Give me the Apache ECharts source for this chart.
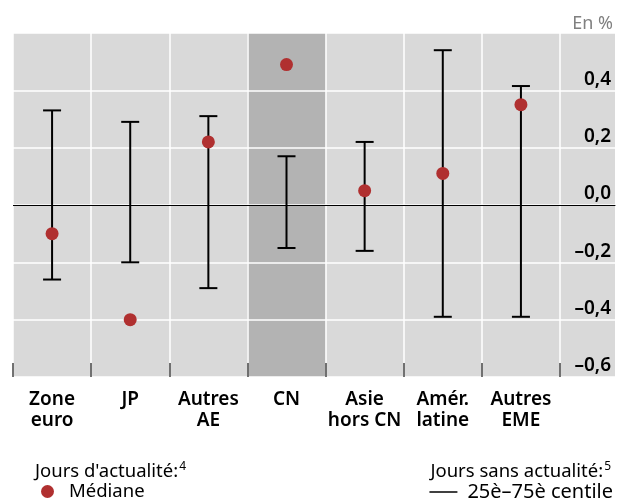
<!DOCTYPE html>
<html>
<head>
<meta charset="utf-8">
<script src="https://cdn.jsdelivr.net/npm/echarts@6/dist/echarts.min.js"></script>
<style>
  html, body { margin: 0; padding: 0; background: #fff; }
  #chart { width: 624px; height: 499px; }
</style>
</head>
<body>
<div id="chart"></div>
<script>
// Regions on the horizontal axis
var categories = ['Zone\neuro', 'JP', 'Autres\nAE', 'CN', 'Asie\nhors CN', 'Amér.\nlatine', 'Autres\nEME'];
// News days: median return (%)
var medians = [-0.10, -0.40, 0.22, 0.49, 0.05, 0.11, 0.35];
// No-news days: 25th and 75th percentiles (%)
var p25 = [-0.26, -0.20, -0.29, -0.15, -0.16, -0.39, -0.39];
var p75 = [0.33, 0.29, 0.31, 0.17, 0.22, 0.54, 0.415];
// Highlighted category
var highlighted = 'CN';
// Value axis range and step
var yMin = -0.6, yMax = 0.6, yStep = 0.2;

var FONT = '"Noto Sans", sans-serif';
var RED = '#b03030';
var BG = '#d9d9d9';

function fmt(v) {
  var s = Math.abs(v).toFixed(1).replace('.', ',');
  return (v < -1e-9 ? '\u2013' : '') + s;
}

var rangeData = categories.map(function (c, i) { return [i, p25[i], p75[i]]; });
var medianData = categories.map(function (c, i) { return [i, medians[i]]; });
var hi = categories.indexOf(highlighted);

var chart = echarts.init(document.getElementById('chart'), null, { renderer: 'canvas' });

var headRich = {
  t: { fontFamily: FONT, fontSize: 18.5, fontWeight: 'normal', color: '#000' },
  s: { fontFamily: FONT, fontSize: 12, fontWeight: 'normal', color: '#000', padding: [0, 0, 10, 1] }
};

chart.setOption({
  animation: false,
  backgroundColor: '#fff',
  textStyle: { fontFamily: FONT },
  title: [
    {
      left: 30, top: 456,
      text: '{t|Jours d\'actualité:}{s|4}',
      textStyle: { fontWeight: 'normal', rich: headRich }
    },
    {
      right: 8, top: 456,
      text: '{t|Jours sans actualité:}{s|5}',
      textStyle: { fontWeight: 'normal', rich: headRich }
    },
    {
      right: 6, top: 10,
      text: 'En %',
      textStyle: { fontFamily: FONT, fontSize: 18, fontWeight: 'normal', color: '#808080' }
    }
  ],
  legend: [
    {
      left: 36, top: 477,
      data: ['Médiane'],
      icon: 'circle',
      itemWidth: 13, itemHeight: 13,
      textStyle: { fontFamily: FONT, fontSize: 18.5, color: '#000', padding: [0, 0, 0, 10] }
    },
    {
      right: 6, top: 477,
      data: ['25è\u201375è centile'],
      icon: 'rect',
      itemWidth: 28, itemHeight: 1.5,
      textStyle: { fontFamily: FONT, fontSize: 20, color: '#000', padding: [0, 0, 0, 5] }
    }
  ],
  grid: [
    { left: 13, right: 64, top: 33, bottom: 122, show: true, backgroundColor: BG, borderWidth: 0, z: 0 },
    { left: 560, right: 9, top: 33, bottom: 122, show: true, backgroundColor: BG, borderWidth: 0, z: 0 }
  ],
  xAxis: [
    {
      type: 'category', gridIndex: 0, data: categories, z: 2,
      boundaryGap: true,
      axisLine: { show: false, onZero: false },
      axisTick: { show: true, inside: true, length: 14, lineStyle: { color: '#444', width: 1.5 } },
      axisLabel: { fontFamily: FONT, fontSize: 19, fontWeight: 600, lineHeight: 21, color: '#000', margin: 12, interval: 0 },
      splitLine: { show: true, interval: 0, lineStyle: { color: '#fff', width: 1.5 } }
    },
    {
      type: 'value', gridIndex: 1, min: 0, max: 1, z: 2,
      axisLine: { show: true, onZero: true, lineStyle: { color: '#000', width: 1 } },
      axisTick: { show: false },
      axisLabel: { show: false },
      splitLine: { show: false }
    }
  ],
  yAxis: [
    {
      type: 'value', gridIndex: 0, min: yMin, max: yMax, interval: yStep, z: 2,
      axisLine: { show: false }, axisTick: { show: false }, axisLabel: { show: false },
      splitLine: { show: true, lineStyle: { color: '#fff', width: 1.5 } }
    },
    {
      type: 'value', gridIndex: 1, min: yMin, max: yMax, interval: yStep, z: 2,
      position: 'right',
      axisLine: { show: false }, axisTick: { show: false },
      axisLabel: {
        inside: true, margin: 4, align: 'right', verticalAlign: 'bottom',
        fontFamily: FONT, fontSize: 19, fontWeight: 600, color: '#000', lineHeight: 22,
        formatter: function (v) { return v > yMax - 1e-9 ? '' : fmt(v); }
      },
      splitLine: { show: true, lineStyle: { color: '#fff', width: 1.5 } }
    }
  ],
  series: [
    {
      // darker band behind the highlighted category
      type: 'custom', xAxisIndex: 0, yAxisIndex: 0, z: 1, silent: true,
      data: [[hi, yMin, yMax]],
      renderItem: function (params, api) {
        var w = api.size([1, 0])[0];
        var top = api.coord([api.value(0), api.value(2)]);
        var bot = api.coord([api.value(0), api.value(1)]);
        return {
          type: 'rect',
          shape: { x: top[0] - w / 2, y: top[1], width: w, height: bot[1] - top[1] },
          style: { fill: '#b3b3b3' }
        };
      }
    },
    {
      name: '25è\u201375è centile',
      type: 'custom', xAxisIndex: 0, yAxisIndex: 0, z: 3,
      itemStyle: { color: '#000' },
      encode: { x: 0, y: [1, 2] },
      data: rangeData,
      renderItem: function (params, api) {
        var x = api.value(0);
        var lo = api.coord([x, api.value(1)]);
        var up = api.coord([x, api.value(2)]);
        var half = 9;
        var st = { stroke: '#000', lineWidth: 2 };
        return {
          type: 'group',
          children: [
            { type: 'line', shape: { x1: lo[0], y1: lo[1], x2: up[0], y2: up[1] }, style: st },
            { type: 'line', shape: { x1: up[0] - half, y1: up[1], x2: up[0] + half, y2: up[1] }, style: st },
            { type: 'line', shape: { x1: lo[0] - half, y1: lo[1], x2: lo[0] + half, y2: lo[1] }, style: st }
          ]
        };
      },
      markLine: {
        silent: true, symbol: 'none', label: { show: false },
        lineStyle: { color: '#000', width: 1, type: 'solid' },
        data: [{ yAxis: 0 }]
      }
    },
    {
      name: 'Médiane',
      type: 'scatter', xAxisIndex: 0, yAxisIndex: 0, z: 4,
      symbol: 'circle', symbolSize: 13,
      itemStyle: { color: RED, opacity: 1 },
      data: medianData
    }
  ]
});
</script>
</body>
</html>
